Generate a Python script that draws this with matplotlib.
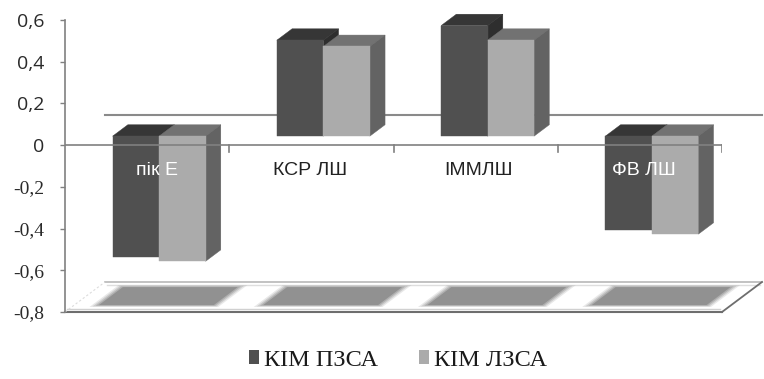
import matplotlib
matplotlib.use("Agg")
import matplotlib.pyplot as plt
from matplotlib.patches import Polygon, Patch
import numpy as np

# ---- data -------------------------------------------------------------
categories = ["пік E", "КСР ЛШ", "ІММЛШ", "ФВ ЛШ"]
series_names = ["КІМ ПЗСА", "КІМ ЛЗСА"]
kim_pzsa = [-0.58, 0.46, 0.53, -0.45]
kim_lzsa = [-0.60, 0.43, 0.46, -0.47]
y_ticks = [-0.8, -0.6, -0.4, -0.2, 0.0, 0.2, 0.4, 0.6]
y_tick_labels = ["-0,8", "-0,6", "-0,4", "-0,2", "0", "0,2", "0,4", "0,6"]

# ---- style ------------------------------------------------------------
FRONT = ["#505050", "#ababab"]
TOP = ["#363636", "#727272"]
SIDE = ["#2e2e2e", "#636363"]
AXIS_GREY = "#808080"
label_colors = ["white", "#222222", "#222222", "white"]
label_dx = [0.06, -0.01, 0.02, 0.025]

# oblique depth projection (full depth of the plot box)
DX, DY = 0.2435, 0.1438
BAR_D0, BAR_D1 = 0.30, 0.68
BAR_W = 0.283
YMIN, YMAX = -0.8, 0.6


def P(x, y, d):
    return (x + d * DX, y + d * DY)


fig = plt.figure(figsize=(7.64, 3.79), dpi=100)
ax = fig.add_axes([65 / 764, 1 - 312 / 379, 657 / 764, 292 / 379])
ax.set_xlim(0, len(categories))
ax.set_ylim(YMIN, YMAX)
for s in ["top", "right", "bottom"]:
    ax.spines[s].set_visible(False)
ax.spines["left"].set_color(AXIS_GREY)
ax.spines["left"].set_linewidth(1.2)
ax.set_xticks([])
ax.set_yticks(y_ticks)
ax.set_yticklabels(y_tick_labels)
ax.tick_params(axis="y", direction="out", length=3.6, width=1.0,
               color=AXIS_GREY, pad=11.5, labelcolor="#2a2a2a")
for lab, v in zip(ax.get_yticklabels(), y_ticks):
    if v < 0:
        lab.set_fontfamily("Liberation Serif")
        lab.set_fontsize(14)
    else:
        lab.set_fontfamily("Open Sans")
        lab.set_fontsize(14)
        lab.set_fontweight("medium")

n = len(categories)

# floor slab at the bottom of the value range
floor = Polygon([P(0, YMIN, 0), P(n, YMIN, 0), P(n, YMIN, 1), P(0, YMIN, 1)],
                closed=True, facecolor="white", edgecolor="none",
                zorder=1, clip_on=False)
ax.add_patch(floor)
fx0, fy0 = P(0, YMIN, 1)
fx1, fy1 = P(n, YMIN, 1)
ax.plot([fx0, fx1], [fy0, fy1], color="#bdbdbd", lw=1.3, zorder=1.2, clip_on=False)
ax.plot([fx0 + 0.01, fx1 - 0.01], [fy0 - 0.012, fy1 - 0.012], color="#dedede",
        lw=1.0, zorder=1.2, clip_on=False)
ax.plot([0, n], [YMIN, YMIN], color="#6e6e6e", lw=1.5, zorder=1.3, clip_on=False)
ax.plot([0.01, n - 0.01], [YMIN + 0.015, YMIN + 0.015], color="#d0d0d0",
        lw=1.0, zorder=1.3, clip_on=False)
rx, ry = P(n, YMIN, 1)
ax.plot([n, rx], [YMIN, ry], color="#6e6e6e", lw=1.3, zorder=1.3, clip_on=False)
ax.plot([0, fx0], [YMIN, fy0], color="#dcdcdc", lw=0.8, ls=(0, (2, 2)),
        zorder=1.3, clip_on=False)

# bar shadows on the floor (soft edges from stacked translucent layers)
for i in range(n):
    for k, a in enumerate([0.2, 0.3, 0.45, 0.9]):
        g = 0.014 * (3 - k)
        xa, xb = i + 0.15 - g, i + 0.85 + g
        da, db = 0.23 - g * 1.5, 0.83 + g * 1.5
        shp = Polygon([P(xa, YMIN, da), P(xb, YMIN, da), P(xb, YMIN, db), P(xa, YMIN, db)],
                      closed=True, facecolor="#8e8e8e", edgecolor="none",
                      alpha=a, zorder=1.5, clip_on=False)
        ax.add_patch(shp)

# back wall zero line
bx0, by0 = P(0, 0, 1)
bx1, by1 = P(n, 0, 1)
ax.plot([bx0, bx1], [by0, by1], color="#8a8a8a", lw=1.5, zorder=1.6, clip_on=False)


def draw_box(x0, v, si, z):
    lo, hi = min(0.0, v), max(0.0, v)
    x1 = x0 + BAR_W
    faces = [
        ([P(x0, hi, BAR_D0), P(x1, hi, BAR_D0), P(x1, hi, BAR_D1), P(x0, hi, BAR_D1)], TOP[si]),
        ([P(x1, lo, BAR_D0), P(x1, lo, BAR_D1), P(x1, hi, BAR_D1), P(x1, hi, BAR_D0)], SIDE[si]),
        ([P(x0, lo, BAR_D0), P(x1, lo, BAR_D0), P(x1, hi, BAR_D0), P(x0, hi, BAR_D0)], FRONT[si]),
    ]
    for pts, col in faces:
        ax.add_patch(Polygon(pts, closed=True, facecolor=col, edgecolor=col,
                             lw=0.3, zorder=z, clip_on=False))


z = 2
for i in range(n):
    c = i + 0.5
    for si, vals in enumerate([kim_pzsa, kim_lzsa]):
        x0 = c - BAR_W + si * BAR_W
        draw_box(x0, vals[i], si, z)
        z += 0.1

# front horizontal axis at zero, with category boundary ticks
ax.plot([0, n], [0, 0], color=AXIS_GREY, lw=1.4, alpha=0.85, zorder=5)
for b in range(1, n + 1):
    ax.plot([b, b], [0, -0.034], color=AXIS_GREY, lw=1.2, zorder=5)

# category labels
for i, name in enumerate(categories):
    ax.text(i + 0.5 + label_dx[i], -0.12, name, ha="center", va="center",
            fontsize=14, family="Liberation Sans", color=label_colors[i], zorder=6)

handles = [Patch(facecolor=FRONT[0], edgecolor="none"),
           Patch(facecolor=FRONT[1], edgecolor="none")]
fig.legend(handles, series_names, loc="center", bbox_to_anchor=(398 / 764, 1 - 360 / 379),
           ncol=2, frameon=False, prop={"family": "Liberation Serif", "size": 17.5},
           handlelength=0.42, handleheight=0.55, handletextpad=0.2,
           columnspacing=1.7, labelcolor="#1a1a1a")

fig.savefig("out.png", dpi=100, facecolor="white")
